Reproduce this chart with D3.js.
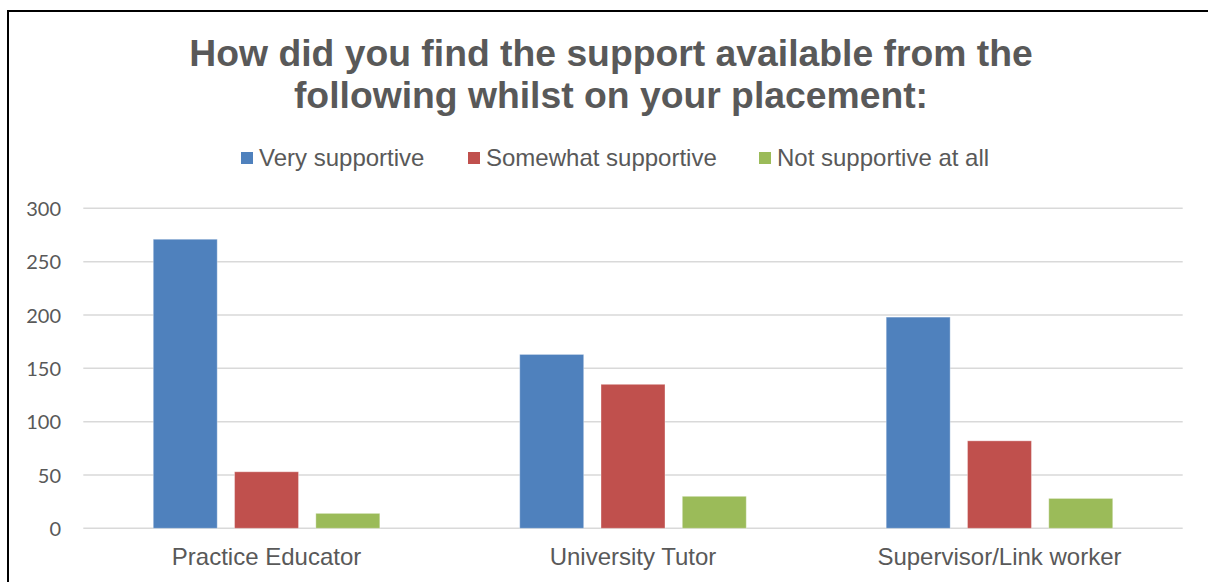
<!DOCTYPE html>
<html>
<head>
<meta charset="utf-8">
<script src="https://cdn.jsdelivr.net/npm/d3@7"></script>
<style>
  html, body { margin: 0; padding: 0; background: #fff; overflow: hidden; }
  svg { display: block; }
</style>
</head>
<body>
<svg id="chart" width="1208" height="582"></svg>
<script>
// Survey responses: support received during placement
const categories = ["Practice Educator", "University Tutor", "Supervisor/Link worker"];
const seriesNames = ["Very supportive", "Somewhat supportive", "Not supportive at all"];
const verySupportive = [271, 163, 198];
const somewhatSupportive = [53, 135, 82];
const notSupportive = [14, 30, 28];
const yTicks = [0, 50, 100, 150, 200, 250, 300];
const titleLines = ["How did you find the support available from the", "following whilst on your placement:"];

const seriesValues = [verySupportive, somewhatSupportive, notSupportive];
const colors = ["#4F81BD", "#C0504D", "#9BBB59"];
const textColor = "#595959";

const svg = d3.select("#chart");

// outer frame (only top/left edges fall inside the page)
svg.append("rect")
  .attr("x", 8).attr("y", 11)
  .attr("width", 1300).attr("height", 700)
  .attr("fill", "none")
  .attr("stroke", "#000")
  .attr("stroke-width", 2);

const plot = { left: 83.3, right: 1182.7, top: 208.3, bottom: 528.3 };

const y = d3.scaleLinear().domain([0, 300]).range([plot.bottom, plot.top]);
const p = 0.3818;
const x0 = d3.scaleBand().domain(categories)
  .range([plot.left, plot.right])
  .paddingInner(p).paddingOuter(p / 2);
const x1 = d3.scaleBand().domain(seriesNames)
  .range([0, x0.bandwidth()])
  .paddingInner(0.213).paddingOuter(0);

// gridlines
svg.append("g")
  .selectAll("line")
  .data(yTicks)
  .join("line")
  .attr("x1", plot.left).attr("x2", plot.right)
  .attr("y1", d => y(d)).attr("y2", d => y(d))
  .attr("stroke", "#d9d9d9")
  .attr("stroke-width", 1.5);

// y axis labels
const yAxis = d3.axisLeft(y).tickValues(yTicks).tickSize(0).tickPadding(0);
const gy = svg.append("g")
  .attr("transform", `translate(61,0)`)
  .call(yAxis);
gy.select(".domain").remove();
gy.selectAll("text")
  .attr("font-family", "Lato, 'Open Sans', sans-serif")
  .attr("font-size", 20)
  .attr("fill", textColor)
  .attr("dy", "0.36em");

// bars
const groups = svg.append("g")
  .selectAll("g")
  .data(categories)
  .join("g")
  .attr("transform", d => `translate(${x0(d)},0)`);

groups.selectAll("rect")
  .data((c, i) => seriesNames.map((s, k) => ({ s, k, v: seriesValues[k][i] })))
  .join("rect")
  .attr("x", d => x1(d.s))
  .attr("width", x1.bandwidth())
  .attr("y", d => y(d.v))
  .attr("height", d => y(0) - y(d.v))
  .attr("fill", d => colors[d.k])
  .attr("stroke", "rgba(255,255,255,0.35)")
  .attr("stroke-width", 1);

// category labels
const xAxis = d3.axisBottom(x0).tickSize(0).tickPadding(0);
const gx = svg.append("g")
  .attr("transform", `translate(0,${plot.bottom})`)
  .call(xAxis);
gx.select(".domain").remove();
gx.selectAll("text")
  .attr("font-family", "'Liberation Sans', Arial, sans-serif")
  .attr("font-size", 24)
  .attr("fill", textColor)
  .attr("y", 37)
  .attr("dy", 0);

// title
svg.append("text")
  .attr("text-anchor", "middle")
  .attr("font-family", "'Liberation Sans', Arial, sans-serif")
  .attr("font-weight", "bold")
  .attr("font-size", 37.3)
  .attr("fill", textColor)
  .selectAll("tspan")
  .data(titleLines)
  .join("tspan")
  .attr("x", 611)
  .attr("y", (d, i) => 66 + i * 42)
  .text(d => d);

// legend
const legendX = [241, 468, 759];
const legend = svg.append("g")
  .selectAll("g")
  .data(seriesNames)
  .join("g")
  .attr("transform", (d, i) => `translate(${legendX[i]},0)`);
legend.append("rect")
  .attr("x", 0).attr("y", 152)
  .attr("width", 12).attr("height", 12)
  .attr("fill", (d, i) => colors[i]);
legend.append("text")
  .attr("x", 18).attr("y", 166)
  .attr("font-family", "'Liberation Sans', Arial, sans-serif")
  .attr("font-size", 24)
  .attr("fill", textColor)
  .text(d => d);
</script>
</body>
</html>
